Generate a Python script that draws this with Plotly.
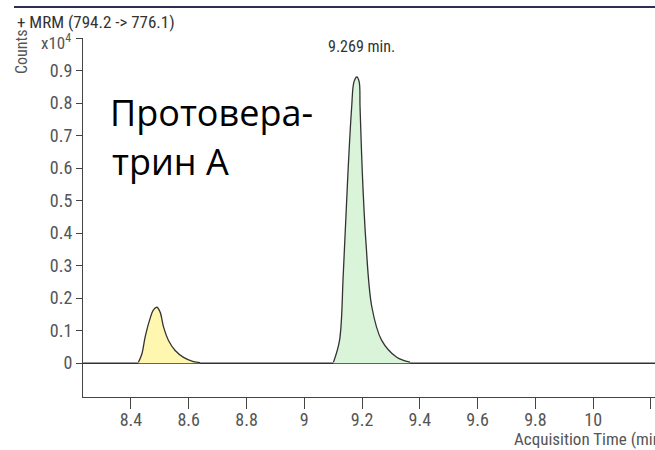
import plotly.graph_objects as go

# ---------------- data ----------------
# Retention time axis (min) and intensity (Counts, x10^4)
yellow_time = [8.426, 8.438, 8.449, 8.464, 8.478, 8.490, 8.501, 8.513, 8.530, 8.553, 8.582, 8.616, 8.639]
yellow_counts = [0.003, 0.029, 0.080, 0.131, 0.164, 0.172, 0.157, 0.111, 0.070, 0.039, 0.018, 0.005, 0.002]

green_time = [9.101, 9.122, 9.135, 9.151, 9.164, 9.172, 9.182, 9.190, 9.193, 9.201, 9.213, 9.234, 9.268, 9.320, 9.366]
green_counts = [0.003, 0.070, 0.275, 0.583, 0.788, 0.865, 0.880, 0.865, 0.788, 0.583, 0.378, 0.172, 0.070, 0.018, 0.003]

baseline_time = [8.234, 10.214]
baseline_counts = [0.0, 0.0]

x_tick_vals = [8.4, 8.6, 8.8, 9.0, 9.2, 9.4, 9.6, 9.8, 10.0]
x_tick_text = ["8.4", "8.6", "8.8", "9", "9.2", "9.4", "9.6", "9.8", "10"]
x_unlabeled_ticks = [10.2]
y_tick_vals = [0, 0.1, 0.2, 0.3, 0.4, 0.5, 0.6, 0.7, 0.8, 0.9]
y_tick_text = ["0", "0.1", "0.2", "0.3", "0.4", "0.5", "0.6", "0.7", "0.8", "0.9"]
y_unlabeled_ticks = [1.0]

peak_label = "9.269 min."
header = "+ MRM (794.2 -&gt; 776.1)"
compound_line1 = "Протовера-"
compound_line2 = "трин А"
x_title = "Acquisition Time (min)"
y_title = "Counts"

# ---------------- layout geometry ----------------
W, H = 655, 450
ML, MR, MT, MB = 83, 0, 38, 53
PW, PH = W - ML - MR, H - MT - MB


def px_x(px):
    return (px - ML) / PW


def px_y(py):
    return (H - MB - py) / PH


narrow = "Liberation Sans Narrow, Arial Narrow, Roboto Condensed, DejaVu Sans Condensed, sans-serif"
tick_color = "#555555"

fig = go.Figure()

fig.add_trace(go.Scatter(x=baseline_time, y=baseline_counts, mode="lines",
                         line=dict(color="#333333", width=1.5), hoverinfo="skip", showlegend=False))
fig.add_trace(go.Scatter(x=yellow_time, y=yellow_counts, mode="lines", fill="tozeroy",
                         fillcolor="#FFF6B0", line=dict(color="#333333", width=1.3, shape="spline"),
                         showlegend=False))
fig.add_trace(go.Scatter(x=green_time, y=green_counts, mode="lines", fill="tozeroy",
                         fillcolor="#D9F4D9", line=dict(color="#333333", width=1.3, shape="spline"),
                         showlegend=False))

fig.update_xaxes(range=[baseline_time[0], baseline_time[1]], tickmode="array",
                 tickvals=x_tick_vals, ticktext=x_tick_text,
                 showline=True, linecolor="#444444", linewidth=1, ticks="outside", ticklen=11,
                 tickcolor="#444444", showgrid=False, zeroline=False, ticklabelstandoff=-5,
                 minor=dict(tickmode="array", tickvals=x_unlabeled_ticks, ticks="outside", ticklen=11,
                            tickcolor="#444444", showgrid=False),
                 tickfont=dict(family=narrow, size=18, color=tick_color))
fig.update_yaxes(range=[-0.104, 1.0], tickmode="array", tickvals=y_tick_vals, ticktext=y_tick_text,
                 showline=True, linecolor="#444444", linewidth=1, ticks="outside", ticklen=6,
                 tickcolor="#444444", showgrid=False, zeroline=False,
                 minor=dict(tickmode="array", tickvals=y_unlabeled_ticks, ticks="outside", ticklen=6,
                            tickcolor="#444444", showgrid=False),
                 tickfont=dict(family=narrow, size=18, color=tick_color))

annotations = [
    dict(text=header, xref="paper", yref="paper", x=px_x(15), y=px_y(22), xanchor="left", yanchor="middle",
         showarrow=False, font=dict(family=narrow, size=17, color="#333333")),
    dict(text=y_title, xref="paper", yref="paper", x=px_x(22), y=px_y(52), xanchor="center", yanchor="middle",
         textangle=-90, showarrow=False, font=dict(family=narrow, size=16, color=tick_color)),
    dict(text="x10<sup>4</sup>", xref="paper", yref="paper", x=px_x(39), y=px_y(42), xanchor="left",
         yanchor="middle", showarrow=False, font=dict(family=narrow, size=17, color=tick_color)),
    dict(text=peak_label, xref="paper", yref="paper", x=px_x(361), y=px_y(46), xanchor="center",
         yanchor="middle", showarrow=False, font=dict(family=narrow, size=16, color="#333333")),
    dict(text=compound_line1, xref="paper", yref="paper", x=px_x(108), y=px_y(112), xanchor="left",
         yanchor="middle", showarrow=False, font=dict(family="Open Sans", size=36, color="#000000")),
    dict(text=compound_line2, xref="paper", yref="paper", x=px_x(110), y=px_y(161), xanchor="left",
         yanchor="middle", showarrow=False, font=dict(family="Open Sans", size=36, color="#000000")),
    dict(text=x_title, xref="paper", yref="paper", x=px_x(512), y=px_y(439), xanchor="left",
         yanchor="middle", showarrow=False, font=dict(family=narrow, size=17, color=tick_color)),
]

shapes = [
    dict(type="line", xref="paper", yref="paper", x0=px_x(14), x1=px_x(660), y0=px_y(7), y1=px_y(7),
         line=dict(color="#2E2E4E", width=2)),
]

fig.update_layout(width=W, height=H, margin=dict(l=ML, r=MR, t=MT, b=MB),
                  paper_bgcolor="white", plot_bgcolor="white",
                  annotations=annotations, shapes=shapes, showlegend=False)

fig.write_html("out.html", config={"displayModeBar": False},
               post_script="document.body.style.margin='0px';")
